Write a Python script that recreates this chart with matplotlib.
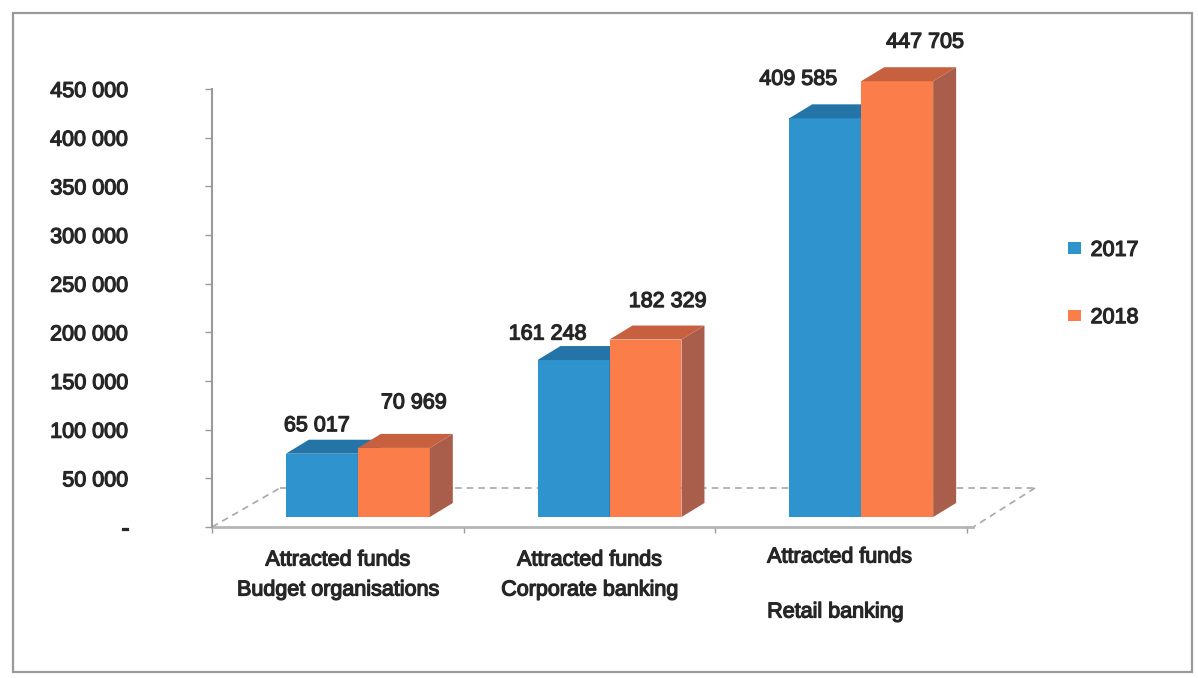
import numpy as np
import matplotlib
matplotlib.use("Agg")
import matplotlib.pyplot as plt
from matplotlib.patches import Polygon, Patch, Rectangle
from matplotlib.transforms import ScaledTranslation
import matplotlib.patheffects as pe

# DATA
categories = ["Attracted funds\nBudget organisations",
              "Attracted funds\nCorporate banking",
              "Attracted funds\nRetail banking"]
series_names = ["2017", "2018"]
funds_2017 = [65017, 161248, 409585]
funds_2018 = [70969, 182329, 447705]
y_ticks = [0, 50000, 100000, 150000, 200000, 250000, 300000, 350000, 400000, 450000]

# STYLE
W, H = 1198, 678
TEXT = "#262626"
FRONT = ["#2f93cd", "#fa7d4a"]
TOP = ["#2574a8", "#c6603f"]
SIDE = ["#1f6a99", "#a95e4c"]
FONT = "Liberation Sans"
FS = 15.5
heavy = [pe.withStroke(linewidth=0.9, foreground=TEXT)]

plt.rcParams["font.family"] = [FONT, "DejaVu Sans"]


def fmt(v):
    """Thousands split by a space, zero shown as a dash."""
    return "-" if v == 0 else f"{v:,.0f}".replace(",", " ")


fig = plt.figure(figsize=(W / 100, H / 100), dpi=100)
ax = fig.add_axes([212 / W, (H - 527) / H, (967 - 212) / W, (527 - 89) / H])
ax.set_xlim(-0.5, 2.5)
ax.set_ylim(0, 450000)

# outer frame of the chart
fig.add_artist(Rectangle((13 / W, 6 / H), (1192 - 13) / W, (665 - 6) / H,
                         transform=fig.transFigure, fill=False,
                         edgecolor="#9a9a9a", linewidth=1.6))


def px_to_data(dx, dy):
    """Convert a shift in pixels to a shift in data units."""
    x0, y0 = ax.transData.transform((0, 0))
    x1, y1 = ax.transData.inverted().transform((x0 + dx, y0 + dy))
    return x1, y1


# floor of the pseudo-3D box
fdx, fdy = px_to_data(68, 39)
x_lo, x_hi = -0.5, 2.5
floor_style = dict(color="#a8a8a8", linestyle=(0, (4, 3)), linewidth=1.2,
                   clip_on=False, zorder=1)
ax.plot([x_lo, x_lo + fdx], [0, fdy], **floor_style)
ax.plot([x_lo + fdx, x_hi + fdx], [fdy, fdy], **floor_style)
ax.plot([x_hi + fdx, x_hi + 0.025], [fdy, 0], **floor_style)
ax.plot([x_hi, x_hi + 0.025], [0, 0], color="#b5b5b5", linewidth=2,
        clip_on=False, zorder=1)

# bars sit a little behind the front edge of the floor
shift = ax.transData + ScaledTranslation(20 / 100, 10 / 100, fig.dpi_scale_trans)
ddx, ddy = px_to_data(23, 14)
width = 0.286
x = np.arange(len(categories))

label_nudge = [[(-5, 28), (-26, 26), (-27, 39)],
               [(20, 45), (22, 38), (28, 39)]]

for s, vals in enumerate([funds_2017, funds_2018]):
    xs = x + (s - 0.5) * width
    ax.bar(xs, vals, width, color=FRONT[s], transform=shift, zorder=3 + s,
           clip_on=False, linewidth=0)
    for i, v in enumerate(vals):
        x0, x1 = xs[i] - width / 2, xs[i] + width / 2
        top = Polygon([(x0, v), (x1, v), (x1 + ddx, v + ddy), (x0 + ddx, v + ddy)],
                      closed=True, facecolor=TOP[s], edgecolor="none",
                      transform=shift, zorder=3 + s, clip_on=False)
        side = Polygon([(x1, 0), (x1, v), (x1 + ddx, v + ddy), (x1 + ddx, ddy)],
                       closed=True, facecolor=SIDE[s], edgecolor="none",
                       transform=shift, zorder=3 + s, clip_on=False)
        ax.add_patch(side)
        ax.add_patch(top)
        nx, ny = label_nudge[s][i]
        ax.annotate(fmt(v), xy=(xs[i], v), xycoords=shift,
                    xytext=(nx * 0.72, ny * 0.72), textcoords="offset points",
                    ha="center", va="center", fontsize=FS, color=TEXT,
                    path_effects=heavy, zorder=10, annotation_clip=False)

# value axis
for side_name in ["top", "right", "bottom"]:
    ax.spines[side_name].set_visible(False)
ax.spines["left"].set_color("#9a9a9a")
ax.spines["left"].set_linewidth(1.5)
ax.set_yticks(y_ticks)
ax.set_yticklabels([fmt(t) for t in y_ticks])
ax.tick_params(axis="y", length=5, width=1, color="#9a9a9a", pad=55,
               labelsize=FS, labelcolor=TEXT)
for lab in ax.get_yticklabels():
    lab.set_path_effects(heavy)

# category axis: ticks between the groups on the front edge
ax.set_xticks([-0.5, 0.5, 1.5, 2.5])
ax.set_xticklabels([])
ax.tick_params(axis="x", length=4, width=1, color="#9a9a9a", direction="out")
ax.plot([x_lo, x_hi], [0, 0], color="#b5b5b5", linewidth=2, clip_on=False, zorder=2)

for i, cat in enumerate(categories):
    first, second = cat.split("\n")
    if i < 2:
        ax.annotate(first, xy=(i, 0), xytext=(0, -33 * 0.72), textcoords="offset points",
                    ha="center", va="center", fontsize=FS, color=TEXT, path_effects=heavy)
        ax.annotate(second, xy=(i, 0), xytext=(0, -63 * 0.72), textcoords="offset points",
                    ha="center", va="center", fontsize=FS, color=TEXT, path_effects=heavy)
    else:
        ax.annotate(first, xy=(i, 0), xytext=(-74 * 0.72, -30 * 0.72), textcoords="offset points",
                    ha="left", va="center", fontsize=FS, color=TEXT, path_effects=heavy)
        ax.annotate(second, xy=(i, 0), xytext=(-74 * 0.72, -85 * 0.72), textcoords="offset points",
                    ha="left", va="center", fontsize=FS, color=TEXT, path_effects=heavy)

# legend
handles = [Patch(facecolor=FRONT[k], edgecolor="none", label=series_names[k]) for k in range(2)]
leg = fig.legend(handles=handles, loc="center left", bbox_to_anchor=(1068 / W, 1 - 284 / H),
                 frameon=False, fontsize=FS, handlelength=0.6, handleheight=0.45,
                 handletextpad=0.45, labelspacing=2.15, borderpad=0, borderaxespad=0)
for t in leg.get_texts():
    t.set_color(TEXT)
    t.set_path_effects(heavy)

fig.savefig("out.png", dpi=100)
